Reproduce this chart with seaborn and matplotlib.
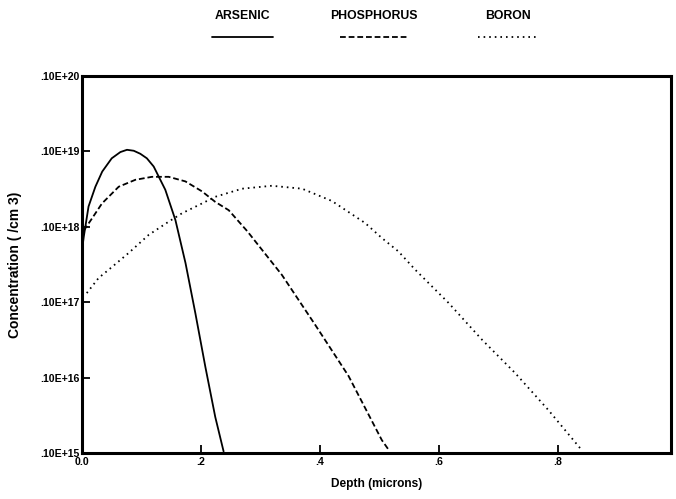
import matplotlib
matplotlib.use("Agg")
import matplotlib.pyplot as plt
from matplotlib.lines import Line2D
from matplotlib.ticker import FixedLocator, FuncFormatter, NullLocator
import numpy as np
import pandas as pd
import seaborn as sns

# Implanted dopant profiles: depth in microns, concentration in /cm3
arsenic_depth = [0.000, 0.003, 0.011, 0.0225, 0.034, 0.050, 0.0645, 0.0756, 0.087,
                 0.098, 0.109, 0.1205, 0.140, 0.157, 0.174, 0.1906, 0.2074, 0.224, 0.238]
arsenic_conc = [4.9e16, 7.4e16, 1.86e17, 3.4e17, 5.4e17, 8.1e17, 9.8e17, 1.05e18, 1.02e18,
                9.3e17, 8.1e17, 6.3e17, 3.1e17, 1.23e17, 3.3e16, 7.1e15, 1.38e15, 3.0e14, 1.05e14]

phosphorus_depth = [0.003, 0.0168, 0.0336, 0.0617, 0.0897, 0.1176, 0.1457, 0.1738, 0.2017,
                    0.224, 0.2466, 0.278, 0.336, 0.392, 0.448, 0.504, 0.5155]
phosphorus_conc = [8.9e16, 1.29e17, 2.04e17, 3.4e17, 4.2e17, 4.6e17, 4.6e17, 4.0e17, 2.95e17,
                   2.14e17, 1.66e17, 8.7e16, 2.3e16, 5.0e15, 1.05e15, 1.48e14, 1.1e14]

boron_depth = [0.008, 0.028, 0.045, 0.0785, 0.112, 0.1457, 0.168, 0.2017, 0.224, 0.269,
               0.319, 0.370, 0.420, 0.476, 0.504, 0.532, 0.560, 0.616, 0.672, 0.728,
               0.784, 0.8376]
boron_conc = [1.32e16, 2.1e16, 2.7e16, 4.5e16, 7.8e16, 1.17e17, 1.51e17, 2.04e17, 2.5e17,
              3.2e17, 3.5e17, 3.2e17, 2.2e17, 1.12e17, 7.1e16, 4.7e16, 2.7e16, 9.8e15,
              3.2e15, 1.15e15, 3.7e14, 1.15e14]

dopants = ["ARSENIC", "PHOSPHORUS", "BORON"]
x_ticks = [0.0, 0.2, 0.4, 0.6, 0.8]
x_tick_labels = ["0.0", ".2", ".4", ".6", ".8"]
y_ticks = [1e14, 1e15, 1e16, 1e17, 1e18, 1e19]

frames = []
for name, d, c in zip(dopants,
                      [arsenic_depth, phosphorus_depth, boron_depth],
                      [arsenic_conc, phosphorus_conc, boron_conc]):
    frames.append(pd.DataFrame({"depth": d, "conc": c, "dopant": name}))
df = pd.concat(frames, ignore_index=True)

sns.set_theme(style="white")
plt.rcParams["font.family"] = ["Liberation Sans", "DejaVu Sans"]
plt.rcParams["font.weight"] = "bold"
plt.rcParams["text.color"] = "black"
plt.rcParams["axes.labelcolor"] = "black"
plt.rcParams["xtick.color"] = "black"
plt.rcParams["ytick.color"] = "black"

fig = plt.figure(figsize=(6.76, 4.99), dpi=100)
ax = fig.add_axes([0.1213, 0.0922, 0.8713, 0.7555])

dash_styles = {"ARSENIC": "", "PHOSPHORUS": (3.2, 1.6), "BORON": (0.9, 2.2)}
sns.lineplot(data=df, x="depth", y="conc", style="dopant", dashes=dash_styles,
             color="black", linewidth=1.3, estimator=None, sort=False,
             legend=False, ax=ax)

ax.set_yscale("log")
ax.set_xlim(0, 0.99)
ax.set_ylim(1e14, 1e19)

ax.xaxis.set_major_locator(FixedLocator(x_ticks))
ax.set_xticklabels(x_tick_labels)
ax.yaxis.set_major_locator(FixedLocator(y_ticks))
ax.yaxis.set_minor_locator(NullLocator())
ax.yaxis.set_major_formatter(
    FuncFormatter(lambda v, _: ".10E+%02d" % (int(round(np.log10(v))) + 1)))

ax.tick_params(axis="both", which="major", direction="in", length=6, width=1.3,
               color="black", labelcolor="black", labelsize=7.6,
               left=True, bottom=True, pad=2)
ax.tick_params(axis="x", pad=3)
for lab in ax.get_xticklabels() + ax.get_yticklabels():
    lab.set_fontweight("bold")

for side in ["left", "right", "top", "bottom"]:
    ax.spines[side].set_visible(True)
    ax.spines[side].set_color("black")
    ax.spines[side].set_linewidth(2.2)

ax.set_xlabel("Depth (microns)", fontsize=8.6, fontweight="bold", labelpad=8,
              color="black")
ax.set_ylabel("Concentration ( /cm 3)", fontsize=10, fontweight="bold", labelpad=13,
              color="black")
ax.grid(False)

# Legend row: names above short line samples
legend_x = [(212, 273), (340, 407), (478, 538)]
W, H = 676.0, 499.0
for name, (x0, x1), ls in zip(dopants, legend_x, ["-", (0, (3.2, 1.6)), (0, (0.9, 2.2))]):
    fig.text((x0 + x1) / 2 / W, 1 - 16 / H, name, ha="center", va="center",
             fontsize=8.8, fontweight="bold", color="black")
    fig.add_artist(Line2D([x0 / W, x1 / W], [1 - 37 / H, 1 - 37 / H],
                          transform=fig.transFigure, color="black",
                          linewidth=1.3, linestyle=ls))

fig.savefig("out.png", dpi=100, facecolor="white")
